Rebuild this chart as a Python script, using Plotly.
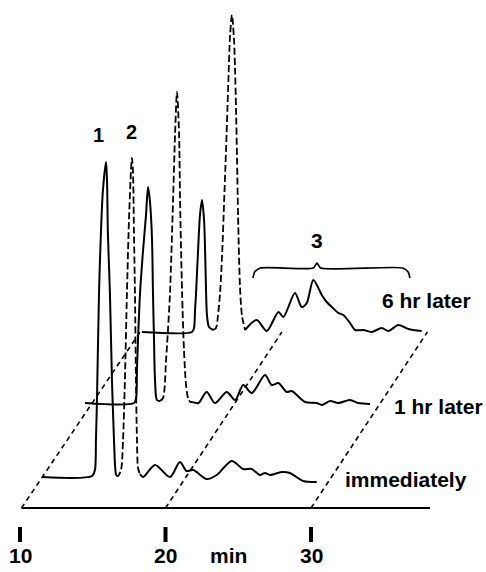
import plotly.graph_objects as go

# ---------------- data ----------------
tick_values = [10, 20, 30]
tick_labels = ["10", "20", "30"]
axis_unit = "min"
axis_end = 38.18

sample_labels = ["immediately", "1 hr later", "6 hr later"]
peak_labels = ["1", "2", "3"]

# "immediately" chromatogram: retention time (min) / detector signal
imm_p1_t = [10.14, 13.51, 13.71, 13.78, 13.85, 13.99, 14.12, 14.26, 14.47, 14.54, 14.60, 14.74, 14.88, 15.02, 15.09, 15.15]
imm_p1_s = [0, 1, 7, 37, 77, 184, 244, 287, 315, 297, 244, 184, 97, 37, 12, 2]
imm_p2_t = [15.15, 15.29, 15.50, 15.64, 15.77, 15.91, 16.05, 16.19, 16.25, 16.32, 16.39, 16.46, 16.53, 16.60, 16.67, 16.80]
imm_p2_s = [2, 1, 7, 37, 97, 184, 257, 307, 319, 307, 247, 184, 97, 37, 9, 3]
imm_p3_t = [16.80, 17.03, 17.84, 18.87, 19.55, 20.01, 20.47, 21.39, 22.08, 23.11, 23.90, 24.48, 25.05, 25.40, 25.74, 26.54, 27.11, 28.03, 28.95]
imm_p3_s = [3, 0, 12, 0, 15, 6, 7, -2, 2, 16, 8, 8, 2, 4, 2, 5, 4, -4, -5]

# "1 hr later" chromatogram
mid_p1_t = [9.56, 12.93, 13.07, 13.13, 13.20, 13.34, 13.55, 13.75, 13.89, 14.03, 14.16, 14.23, 14.30, 14.37, 14.50, 14.71]
mid_p1_s = [0, 0, 5, 33, 63, 110, 153, 188, 216, 200, 165, 110, 63, 23, 3, 2]
mid_p2_t = [14.71, 14.92, 15.13, 15.26, 15.40, 15.61, 15.75, 15.88, 16.02, 16.09, 16.23, 16.36, 16.50, 16.64, 16.78]
mid_p2_s = [2, 5, 43, 73, 110, 203, 270, 311, 270, 203, 110, 53, 18, 5, 1]
mid_p3_t = [16.78, 16.89, 17.35, 17.92, 18.49, 19.30, 19.87, 20.44, 21.02, 21.93, 22.39, 22.85, 23.42, 23.77, 24.68, 25.48, 25.83, 26.40, 26.97, 27.77, 28.34, 29.15]
mid_p3_s = [1, 1, 0, 11, 0, 11, 3, 18, 10, 28, 18, 20, 11, 12, 1, 0, -2, 2, 0, 3, 0, -1]

# "6 hr later" chromatogram
top_p1_t = [10.14, 13.57, 13.71, 13.78, 13.85, 13.99, 14.12, 14.26, 14.40, 14.47, 14.54, 14.60, 14.74, 15.02]
top_p1_s = [0, 0, 4, 22, 39, 82, 117, 132, 112, 82, 39, 17, 5, 2]
top_p2_t = [15.02, 15.22, 15.36, 15.50, 15.64, 15.77, 15.91, 16.05, 16.19, 16.32, 16.46, 16.53, 16.60, 16.67, 16.74, 16.87, 17.01, 17.22]
top_p2_s = [2, 4, 17, 39, 77, 127, 182, 242, 297, 317, 292, 262, 222, 170, 115, 45, 16, 2]
top_p3_t = [17.22, 18.02, 18.71, 19.51, 19.85, 20.65, 21.11, 21.46, 21.91, 22.49, 22.83, 23.18, 23.63, 23.97, 24.43, 24.78, 25.35, 25.92, 26.61, 27.07, 27.75, 28.44, 29.36]
top_p3_s = [2, 12, 1, 20, 15, 39, 25, 29, 52, 37, 30, 25, 19, 17, 9, 2, 2, 0, 4, 1, 7, 3, 1]

# peak 3 group (in the 6 hr chromatogram)
peak3_start, peak3_apex, peak3_end = 17.76, 22.16, 28.55

# ---------------- layout constants (waterfall offsets) ----------------
OFFSET_T = [1.44, 4.91, 8.25]
OFFSET_S = [31, 105, 176]
GUIDE_T = 8.0
X_RANGE = [8.6254, 42.0275]
Y_RANGE = [-64, 508]
FONT = "Liberation Sans, Arial, Helvetica, sans-serif"
LW = 2.0
PEAK_DASH = "7px,3px"
GUIDE_DASH = "5px,4px"

fig = go.Figure()


def add_line(x, y, dash="solid", width=LW, shape="spline", smoothing=0.8):
    fig.add_trace(go.Scatter(
        x=x, y=y, mode="lines",
        line=dict(color="black", width=width, dash=dash, shape=shape,
                  smoothing=smoothing if shape == "spline" else None),
        hoverinfo="skip", showlegend=False, cliponaxis=False))


# dashed oblique guide lines from the time axis to the back trace
for k, tv in enumerate(tick_values):
    add_line([tv + (0.1 if k == 0 else 0), tv + GUIDE_T + (0.25 if k == 0 else 0)],
             [0, OFFSET_S[2]], dash=GUIDE_DASH, width=1.6, shape="linear")

# base time axis
add_line([tick_values[0] + 0.1, axis_end], [0, 0], width=1.8, shape="linear")

# tick bars
for tv in tick_values:
    add_line([tv, tv], [-19, -34], width=4, shape="linear")

# chromatograms
segments = [
    [(imm_p1_t, imm_p1_s, "solid"), (imm_p2_t, imm_p2_s, PEAK_DASH), (imm_p3_t, imm_p3_s, "solid")],
    [(mid_p1_t, mid_p1_s, "solid"), (mid_p2_t, mid_p2_s, PEAK_DASH), (mid_p3_t, mid_p3_s, "solid")],
    [(top_p1_t, top_p1_s, "solid"), (top_p2_t, top_p2_s, PEAK_DASH), (top_p3_t, top_p3_s, "solid")],
]
for i, segs in enumerate(segments):
    for t, s, dash in segs:
        add_line([v + OFFSET_T[i] for v in t], [v + OFFSET_S[i] for v in s],
                 dash=dash, width=LW if dash == "solid" else 1.8)

# brace over peak group 3
lvl = 64
bx = [peak3_start, peak3_start + 0.12, peak3_start + 0.5, peak3_apex - 0.25, peak3_apex,
      peak3_apex + 0.25, peak3_end - 0.5, peak3_end - 0.12, peak3_end]
by = [lvl - 10, lvl - 4, lvl, lvl, lvl + 5, lvl, lvl, lvl - 4, lvl - 10]
add_line([v + OFFSET_T[2] for v in bx], [v + OFFSET_S[2] for v in by], width=1.7,
         smoothing=0.6)

annotations = []


def txt(x, y, text, size=21, xanchor="center"):
    annotations.append(dict(x=x, y=y, xref="x", yref="y", text=text, showarrow=False,
                            xanchor=xanchor, yanchor="middle",
                            font=dict(family=FONT, size=size, color="black", weight="bold")))


# axis labels
for tv, tl in zip(tick_values, tick_labels):
    txt(tv, -47, tl)
txt(24.3, -47, axis_unit)

# sample labels
txt(32.2, 29, sample_labels[0], xanchor="left")
txt(35.57, 102, sample_labels[1], xanchor="left")
txt(34.74, 208, sample_labels[2], xanchor="left")

# peak labels
txt(imm_p1_t[8] + OFFSET_T[0] - 0.5, 373, peak_labels[0], size=20)
txt(imm_p2_t[8] + OFFSET_T[0] - 0.05, 376, peak_labels[1], size=20)
txt(peak3_apex + OFFSET_T[2], OFFSET_S[2] + 92, peak_labels[2], size=21)

fig.update_layout(
    width=486, height=572,
    margin=dict(l=0, r=0, t=0, b=0),
    paper_bgcolor="white", plot_bgcolor="white",
    xaxis=dict(range=X_RANGE, visible=False, fixedrange=True),
    yaxis=dict(range=Y_RANGE, visible=False, fixedrange=True),
    annotations=annotations,
    showlegend=False,
)

fig.write_html("out.html", config={"displayModeBar": False},
               post_script="document.body.style.margin='0';document.body.style.overflow='hidden';")
